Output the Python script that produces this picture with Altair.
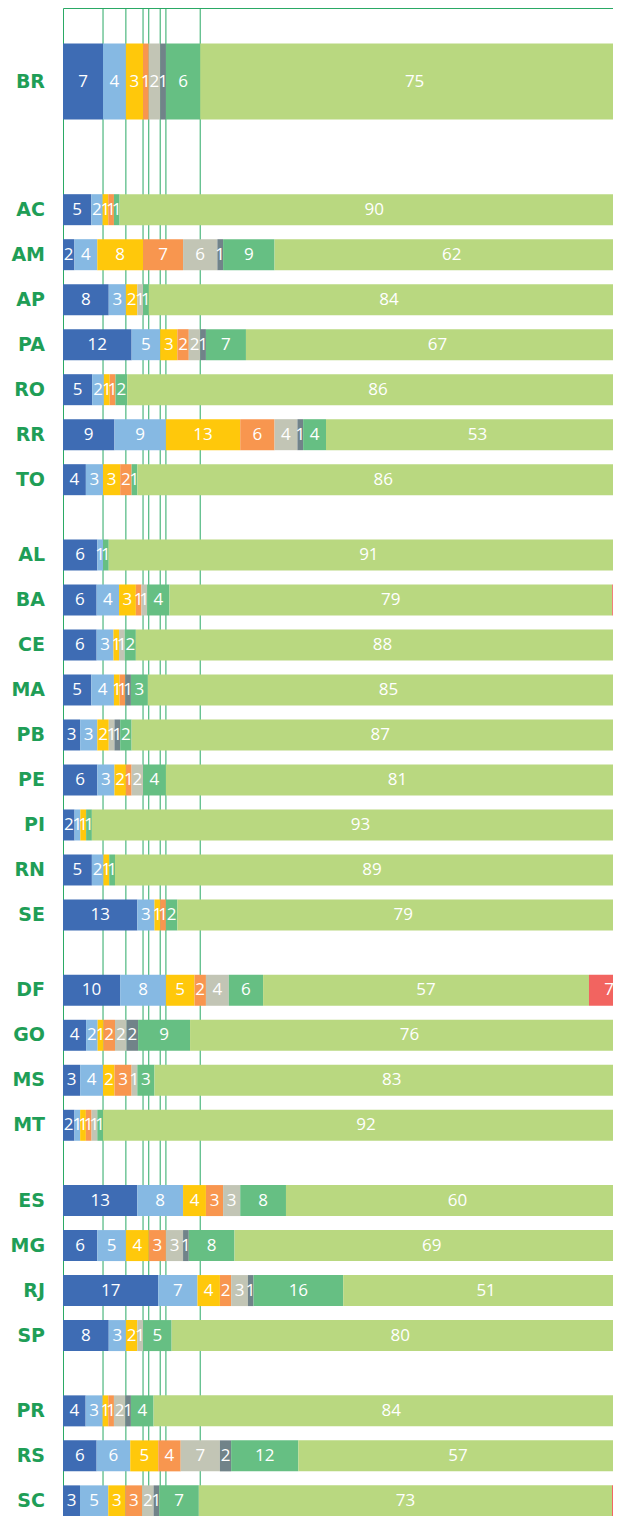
import altair as alt
import pandas as pd

# ---------------- data ----------------
regions = [
    ["BR"],
    ["AC", "AM", "AP", "PA", "RO", "RR", "TO"],
    ["AL", "BA", "CE", "MA", "PB", "PE", "PI", "RN", "SE"],
    ["DF", "GO", "MS", "MT"],
    ["ES", "MG", "RJ", "SP"],
    ["PR", "RS", "SC"],
]
states = [s for r in regions for s in r]

# order: BR, AC, AM, AP, PA, RO, RR, TO, AL, BA, CE, MA, PB, PE, PI, RN, SE,
#        DF, GO, MS, MT, ES, MG, RJ, SP, PR, RS, SC
s1 = [7, 5, 2, 8, 12, 5, 9, 4, 6, 6, 6, 5, 3, 6, 2, 5, 13, 10, 4, 3, 2, 13, 6, 17, 8, 4, 6, 3]
s2 = [4, 2, 4, 3, 5, 2, 9, 3, 1, 4, 3, 4, 3, 3, 1, 2, 3, 8, 2, 4, 1, 8, 5, 7, 3, 3, 6, 5]
s3 = [3, 1, 8, 2, 3, 1, 13, 3, 0, 3, 1, 1, 2, 2, 1, 1, 1, 5, 1, 2, 1, 4, 4, 4, 2, 1, 5, 3]
s4 = [1, 1, 7, 0, 2, 1, 6, 2, 0, 1, 0, 1, 0, 1, 0, 0, 1, 2, 2, 3, 1, 3, 3, 2, 0, 1, 4, 3]
s5 = [2, 0, 6, 1, 2, 0, 4, 0, 0, 1, 1, 0, 1, 2, 0, 0, 0, 4, 2, 1, 1, 3, 3, 3, 1, 2, 7, 2]
s6 = [1, 0, 1, 0, 1, 0, 1, 0, 0, 0, 0, 1, 1, 0, 0, 0, 0, 0, 2, 0, 0, 0, 1, 1, 0, 1, 2, 1]
s7 = [6, 1, 9, 1, 7, 2, 4, 1, 1, 4, 2, 3, 2, 4, 1, 1, 2, 6, 9, 3, 1, 8, 8, 16, 5, 4, 12, 7]
s8 = [75, 90, 62, 84, 67, 86, 53, 86, 91, 79, 88, 85, 87, 81, 93, 89, 79, 57, 76, 83, 92, 60, 69, 51, 80, 84, 57, 73]
s9 = [0, 0, 0, 0, 0, 0, 0, 0, 0, 3, 0, 0, 0, 0, 0, 0, 0, 7, 0, 0, 0, 0, 0, 0, 0, 0, 2, 3]

series = [s1, s2, s3, s4, s5, s6, s7, s8, s9]
series_keys = ["s1", "s2", "s3", "s4", "s5", "s6", "s7", "s8", "s9"]
colors = ["#3e6cb4", "#86b9e3", "#ffc80b", "#f8964f", "#c2c5b5",
          "#718389", "#66bf83", "#b9d880", "#f26460"]

# ---------------- layout constants ----------------
BR_CENTER = 69.0
FIRST_ROW = 198.0
STEP = 45.3
GROUP_STEP = 75.8
PLOT_W = 550
PLOT_H = 1508
PX_PER_UNIT = 5.66
X_MAX = PLOT_W / PX_PER_UNIT
LINE_GREEN = "#2aa965"
LABEL_GREEN = "#1f9e57"

pos = {}
y = 0.0
for gi, reg in enumerate(regions):
    for si, st in enumerate(reg):
        if gi == 0:
            y = BR_CENTER
        elif gi == 1 and si == 0:
            y = FIRST_ROW
        elif si == 0:
            y += GROUP_STEP
        else:
            y += STEP
        pos[st] = y

rows = []
for i, st in enumerate(states):
    vals = [s[i] for s in series]
    total = sum(vals)
    cum = 0.0
    for k, v in zip(series_keys, vals):
        start = cum / total * 100
        cum += v
        end = cum / total * 100
        if v > 0:
            rows.append(dict(state=st, pos=pos[st], series=k, value=v,
                             start=start, end=end, mid=(start + end) / 2,
                             big=(st == "BR")))
df = pd.DataFrame(rows)

br = df[df.state == "BR"].sort_values("end")
rules_df = pd.DataFrame({"cum": br["end"].values[:-1]})
labels_df = pd.DataFrame({"state": states, "pos": [pos[s] for s in states]})

xscale = alt.Scale(domain=[0, X_MAX], nice=False, zero=True)
yscale = alt.Scale(domain=[0, PLOT_H], reverse=True, nice=False, zero=True)
xaxis = alt.Axis(orient="top", labels=False, ticks=False, grid=False, title=None,
                 domainColor=LINE_GREEN, domainWidth=1)
yaxis = alt.Axis(labels=False, ticks=False, grid=False, title=None,
                 domainColor=LINE_GREEN, domainWidth=1)
cscale = alt.Scale(domain=series_keys, range=colors)

rules = alt.Chart(rules_df).mark_rule(color=LINE_GREEN, strokeWidth=1).encode(
    x=alt.X("cum:Q", scale=xscale, axis=xaxis)
)

base = alt.Chart(df)
bars_br = base.transform_filter("datum.big").mark_bar(size=76, clip=True).encode(
    x=alt.X("start:Q", scale=xscale, axis=xaxis),
    x2="end:Q",
    y=alt.Y("pos:Q", scale=yscale, axis=yaxis),
    color=alt.Color("series:N", scale=cscale, legend=None),
)
bars = base.transform_filter("!datum.big").mark_bar(size=31, clip=True).encode(
    x=alt.X("start:Q", scale=xscale, axis=xaxis),
    x2="end:Q",
    y=alt.Y("pos:Q", scale=yscale, axis=yaxis),
    color=alt.Color("series:N", scale=cscale, legend=None),
)
texts = base.mark_text(color="white", fontSize=17, font="Open Sans",
                       baseline="middle", align="center", clip=True).encode(
    x=alt.X("mid:Q", scale=xscale),
    y=alt.Y("pos:Q", scale=yscale),
    text="value:Q",
)
state_labels = alt.Chart(labels_df).mark_text(
    color=LABEL_GREEN, fontSize=19, fontWeight="bold", font="DejaVu Sans",
    align="right", baseline="middle").encode(
    x=alt.value(-18),
    y=alt.Y("pos:Q", scale=yscale),
    text="state:N",
)

chart = alt.layer(rules, bars_br, bars, texts, state_labels).properties(
    width=PLOT_W, height=PLOT_H,
    autosize=alt.AutoSizeParams(type="none"),
    padding={"left": 55, "top": 0, "right": 0, "bottom": 0},
).configure_view(stroke=None)

chart.save("out.html", embed_options={"renderer": "svg", "actions": False})
